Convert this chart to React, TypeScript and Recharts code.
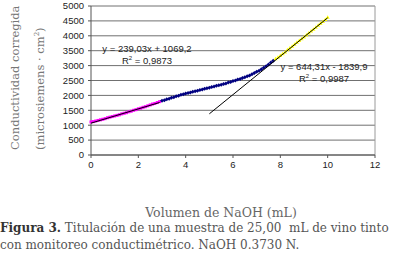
import React from 'react';
import { ScatterChart, Scatter, XAxis, YAxis, CartesianGrid, ReferenceLine } from 'recharts';

// Volumen de NaOH (mL) y conductividad corregida, por tramo de la curva
const volAcid = [0, 0.1, 0.2, 0.3, 0.4, 0.5, 0.6, 0.7, 0.8, 0.9, 1.0, 1.1, 1.2, 1.3, 1.4, 1.5, 1.6, 1.7, 1.8, 1.9, 2.0, 2.1, 2.2, 2.3, 2.4, 2.5, 2.6, 2.7, 2.8, 2.9];
const condAcid = [1110, 1120, 1140, 1160, 1180, 1200, 1220, 1250, 1270, 1290, 1310, 1330, 1350, 1380, 1400, 1420, 1450, 1470, 1500, 1520, 1550, 1570, 1600, 1620, 1650, 1680, 1710, 1730, 1760, 1790];

const volMid = [3.0, 3.1, 3.2, 3.3, 3.4, 3.5, 3.6, 3.7, 3.8, 3.9, 4.0, 4.1, 4.2, 4.3, 4.4, 4.5, 4.6, 4.7, 4.8, 4.9, 5.0, 5.1, 5.2, 5.3, 5.4, 5.5, 5.6, 5.7, 5.8, 5.9, 6.0, 6.1, 6.2, 6.3, 6.4, 6.5, 6.6, 6.7, 6.8, 6.9, 7.0, 7.1, 7.2, 7.3, 7.4, 7.5, 7.6, 7.7];
const condMid = [1820, 1840, 1870, 1890, 1920, 1940, 1970, 1990, 2020, 2040, 2060, 2080, 2100, 2120, 2140, 2160, 2180, 2200, 2220, 2240, 2260, 2280, 2300, 2320, 2340, 2360, 2380, 2400, 2430, 2450, 2480, 2500, 2530, 2550, 2580, 2610, 2640, 2670, 2710, 2750, 2790, 2830, 2880, 2930, 2980, 3040, 3100, 3160];

const volBase = [7.8, 7.9, 8.0, 8.1, 8.2, 8.3, 8.4, 8.5, 8.6, 8.7, 8.8, 8.9, 9.0, 9.1, 9.2, 9.3, 9.4, 9.5, 9.6, 9.7, 9.8, 9.9, 10.0];
const condBase = [3230, 3280, 3340, 3400, 3460, 3530, 3590, 3650, 3720, 3780, 3840, 3900, 3960, 4030, 4090, 4160, 4220, 4290, 4350, 4420, 4480, 4550, 4620];

// líneas de tendencia: [pendiente, ordenada], rango x
const trend1 = [239.03, 1069.2];
const trend1Range = [0, 2.9];
const trend2 = [644.31, -1839.9];
const trend2Range = [5, 10];

const xTicks = [0, 2, 4, 6, 8, 10, 12];
const yTicks = [0, 500, 1000, 1500, 2000, 2500, 3000, 3500, 4000, 4500, 5000];

const toPoints = (xs: number[], ys: number[]) => xs.map((x, i) => ({ x, y: ys[i] }));
const trendPoints = (c: number[], r: number[]) => r.map(x => ({ x, y: c[0] * x + c[1] }));

const Square = (props: any) => <rect x={props.cx - 1.5} y={props.cy - 1.5} width={3} height={3} fill="#ff00ff" />;
const Diamond = (props: any) => (
  <path d={`M${props.cx},${props.cy - 2}L${props.cx + 2},${props.cy}L${props.cx},${props.cy + 2}L${props.cx - 2},${props.cy}Z`} fill="#000080" />
);
const Triangle = (props: any) => (
  <path d={`M${props.cx},${props.cy - 2}L${props.cx + 2},${props.cy + 1.5}L${props.cx - 2},${props.cy + 1.5}Z`} fill="#ffff00" />
);
const NoDot = () => <g />;

const tickFont = { fontFamily: 'Liberation Sans, Arial, sans-serif', fontSize: 9.5, fill: '#222' };
const serif = '"DejaVu Serif", serif';

const labelStyle: React.CSSProperties = {
  fontFamily: 'Liberation Sans, Arial, sans-serif',
  fontSize: 9.5,
  lineHeight: '12px',
  color: '#222',
  whiteSpace: 'nowrap',
};
const supStyle: React.CSSProperties = { fontSize: 6, verticalAlign: 'super', lineHeight: 0 };

export default function App() {
  return (
    <div style={{ position: 'absolute', left: 0, top: 0, width: 398, height: 254, background: '#fff', overflow: 'hidden' }}>
      <ScatterChart width={398} height={187} margin={{ top: 6, right: 23, left: 0, bottom: 0 }}>
        <CartesianGrid vertical={false} stroke="#707070" />
        <XAxis
          type="number"
          dataKey="x"
          domain={[0, 12]}
          ticks={xTicks}
          interval={0}
          height={32}
          tickSize={3}
          tickMargin={3}
          tick={tickFont}
          stroke="#555"
        />
        <YAxis
          type="number"
          dataKey="y"
          domain={[0, 5000]}
          ticks={yTicks}
          interval={0}
          width={91}
          tickSize={3}
          tickMargin={4}
          tick={tickFont}
          stroke="#555"
        />
        <ReferenceLine x={12} stroke="#9a9a9a" />
        <Scatter data={toPoints(volAcid, condAcid)} shape={Square} isAnimationActive={false} />
        <Scatter data={toPoints(volMid, condMid)} shape={Diamond} isAnimationActive={false} />
        <Scatter data={toPoints(volBase, condBase)} shape={Triangle} isAnimationActive={false} />
        <Scatter data={trendPoints(trend1, trend1Range)} line={{ stroke: '#000', strokeWidth: 1 }} shape={NoDot} isAnimationActive={false} />
        <Scatter data={trendPoints(trend2, trend2Range)} line={{ stroke: '#000', strokeWidth: 1 }} shape={NoDot} isAnimationActive={false} />
      </ScatterChart>

      <div style={{ position: 'absolute', left: 97, top: 43, width: 100, textAlign: 'center', ...labelStyle }}>
        y = 239,03x + 1069,2
        <br />
        R<sup style={supStyle}>2</sup> = 0,9873
      </div>
      <div style={{ position: 'absolute', left: 274, top: 61, width: 100, textAlign: 'center', ...labelStyle }}>
        y = 644,31x - 1839,9
        <br />
        R<sup style={supStyle}>2</sup> = 0,9987
      </div>

      <div
        style={{
          position: 'absolute',
          left: 3,
          top: 150,
          width: 150,
          transformOrigin: '0 0',
          transform: 'rotate(-90deg)',
          textAlign: 'left',
          fontFamily: serif,
          fontSize: 11.5,
          lineHeight: '25px',
          color: '#777',
          whiteSpace: 'nowrap',
        }}
      >
        Conductividad corregida
        <br />
        (microsiemens · cm<sup style={{ fontSize: 7, verticalAlign: 'super', lineHeight: 0 }}>2</sup>)
      </div>

      <div style={{ position: 'absolute', left: 0, top: 205, width: 442, textAlign: 'center', fontFamily: serif, fontSize: 12.5, color: '#666' }}>
        Volumen de NaOH (mL)
      </div>

      <div style={{ position: 'absolute', left: 0, top: 220, width: 420, fontFamily: serif, fontSize: 12, lineHeight: '17px', color: '#555', whiteSpace: 'nowrap' }}>
        <b style={{ color: '#333' }}>Figura 3.</b> Titulación de una muestra de 25,00&nbsp; mL de vino tinto
        <br />
        con monitoreo conductimétrico. NaOH 0.3730 N.
      </div>
    </div>
  );
}
